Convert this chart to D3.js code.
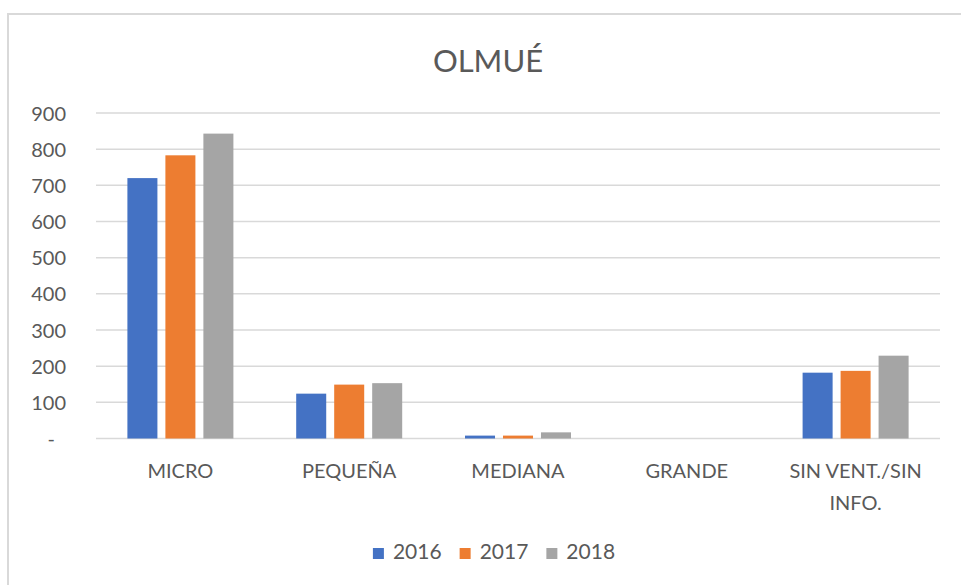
<!DOCTYPE html>
<html>
<head>
<meta charset="utf-8">
<script src="https://cdn.jsdelivr.net/npm/d3@7"></script>
<style>
  body { margin: 0; background: #fff; }
  svg { display: block; font-family: Lato, "Open Sans", sans-serif; }
  .grid line { stroke: #d9d9d9; stroke-width: 1.5; }
  .axis-y text, .axis-x text, .legend text { fill: #595959; }
</style>
</head>
<body>
<svg id="chart" width="961" height="585"></svg>
<script>
"use strict";

// categories and series
var categories = ["MICRO", "PEQUEÑA", "MEDIANA", "GRANDE", "SIN VENT./SIN INFO."];
var years = ["2016", "2017", "2018"];
var values_2016 = [720, 124, 8, 0, 182];
var values_2017 = [783, 149, 8, 0, 187];
var values_2018 = [843, 153, 17, 0, 229];
var y_ticks = [0, 100, 200, 300, 400, 500, 600, 700, 800, 900];
var colors = ["#4472c4", "#ed7d31", "#a5a5a5"];

var series = [values_2016, values_2017, values_2018];

function draw() {
    var d3 = window.d3;
    var svg = d3.select('#chart');

    const plot = {left: 96, right: 940, top: 113, bottom: 438.5};

    // chart frame
    svg.append('rect')
        .attr('x', 8).attr('y', 14)
        .attr('width', 970).attr('height', 600)
        .attr('fill', 'none')
        .attr('stroke', '#d9d9d9')
        .attr('stroke-width', 2);

    // title
    svg.append('text')
        .text('OLMUÉ')
        .attr('x', 488).attr('y', 72)
        .attr('text-anchor', 'middle')
        .attr('font-size', 31)
        .attr('fill', '#595959');

    // scales
    var scale_y = d3.scaleLinear().domain([0, 900]).range([plot.bottom, plot.top]);
    var scale_x = d3.scaleBand().domain(categories).range([plot.left, plot.right]);
    var group_w = 106;
    var scale_s = d3.scaleBand().domain(years)
        .range([(scale_x.bandwidth() - group_w) / 2, (scale_x.bandwidth() + group_w) / 2])
        .paddingInner(0.21);

    // gridlines
    svg.append('g').classed('grid', true)
        .selectAll('line')
        .data(y_ticks).enter()
        .append('line')
            .attr('x1', plot.left).attr('x2', plot.right)
            .attr('y1', d => scale_y(d)).attr('y2', d => scale_y(d));

    // y axis labels
    var axis_y = svg.append('g').classed('axis-y', true)
        .attr('transform', 'translate(' + (plot.left - 30) + ',0)')
        .call(d3.axisLeft(scale_y)
            .tickValues(y_ticks)
            .tickSize(0)
            .tickPadding(0)
            .tickFormat(d => d === 0 ? '-' : d));
    axis_y.select('.domain').remove();
    axis_y.selectAll('text')
        .attr('font-size', 20)
        .attr('font-family', 'Lato, sans-serif')
        .attr('dy', '0.35em')
        .filter(d => d === 0).attr('dx', '-0.55em');

    // bars
    var groups = svg.append('g').selectAll('g')
        .data(series).enter()
        .append('g')
            .attr('fill', (d, i) => colors[i]);
    groups.selectAll('rect')
        .data((vals, si) => vals.map((v, ci) => ({cat: categories[ci], year: years[si], v: v})))
        .enter()
        .append('rect')
            .attr('x', d => scale_x(d.cat) + scale_s(d.year))
            .attr('y', d => scale_y(d.v))
            .attr('width', scale_s.bandwidth())
            .attr('height', d => scale_y(0) - scale_y(d.v));

    // x axis labels
    var axis_x = svg.append('g').classed('axis-x', true)
        .attr('transform', 'translate(0,' + 478 + ')')
        .call(d3.axisBottom(scale_x).tickSize(0).tickPadding(0));
    axis_x.select('.domain').remove();
    axis_x.selectAll('text')
        .attr('font-size', 20)
        .attr('font-family', 'Lato, sans-serif')
        .attr('dy', 0)
        .call(wrap, scale_x.bandwidth() - 10, 31.5);

    // legend
    var legend = svg.append('g').classed('legend', true);
    var items = legend.selectAll('g')
        .data(years).enter()
        .append('g');
    items.append('rect')
        .attr('width', 11).attr('height', 11)
        .attr('y', 548)
        .attr('fill', (d, i) => colors[i]);
    items.append('text')
        .text(d => d)
        .attr('x', 20).attr('y', 559)
        .attr('font-size', 21);
    var x = 0;
    var widths = [];
    items.each(function () { widths.push(this.getBBox().width); });
    var total = d3.sum(widths) + 18 * (widths.length - 1);
    x = 494 - total / 2;
    items.attr('transform', function (d, i) {
        var t = 'translate(' + x + ',0)';
        x += widths[i] + 18;
        return t;
    });
}

// wrap long category labels on the band width
function wrap(texts, width, line_h) {
    texts.each(function () {
        var text = window.d3.select(this);
        var words = text.text().split(/\s+/);
        text.text(null);
        var line = [];
        var tspan = text.append('tspan').attr('x', 0).attr('dy', 0);
        words.forEach(function (w) {
            line.push(w);
            tspan.text(line.join(' '));
            if (tspan.node().getComputedTextLength() > width && line.length > 1) {
                line.pop();
                tspan.text(line.join(' '));
                line = [w];
                tspan = text.append('tspan').attr('x', 0).attr('dy', line_h).text(w);
            }
        });
    });
}

draw();
</script>
</body>
</html>
